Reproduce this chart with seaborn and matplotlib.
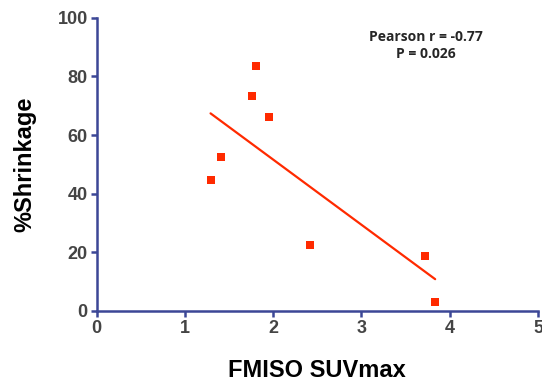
import matplotlib
matplotlib.use("Agg")
import matplotlib.pyplot as plt
import seaborn as sns
import pandas as pd

suvmax = [1.29, 1.41, 1.76, 1.81, 1.955, 2.42, 3.72, 3.835]
shrinkage = [44.6, 52.4, 73.3, 83.5, 66.1, 22.4, 18.7, 3.0]
x_ticks = [0, 1, 2, 3, 4, 5]
y_ticks = [0, 20, 40, 60, 80, 100]
annotation = "Pearson r = -0.77\nP = 0.026"

df = pd.DataFrame({"FMISO SUVmax": suvmax, "%Shrinkage": shrinkage})

sns.set_style("ticks")
plt.rcParams["font.family"] = ["Liberation Sans", "DejaVu Sans"]

red = "#FF2A00"
axis_col = "#3C4796"

fig = plt.figure(figsize=(5.42, 3.82), dpi=100)
ax = fig.add_axes([0.1784, 0.1859, 0.8142, 0.7678])

sns.regplot(data=df, x="FMISO SUVmax", y="%Shrinkage", ax=ax, ci=None, truncate=True,
            marker="s", color=red,
            scatter_kws={"s": 30, "linewidths": 0, "alpha": 1, "zorder": 3},
            line_kws={"lw": 1.6, "color": red})

ax.set_xlim(0, 5)
ax.set_ylim(0, 100)
ax.set_xticks(x_ticks)
ax.set_yticks(y_ticks)
for s in ["top", "right"]:
    ax.spines[s].set_visible(False)
for s in ["left", "bottom"]:
    ax.spines[s].set_color(axis_col)
    ax.spines[s].set_linewidth(1.8)
ax.tick_params(axis="both", colors=axis_col, width=1.8, length=4.5, labelcolor="#444444",
               labelsize=13, pad=2)
for lbl in ax.get_xticklabels() + ax.get_yticklabels():
    lbl.set_fontweight("bold")

ax.set_xlabel("FMISO SUVmax", fontsize=17, fontweight="bold", color="black", labelpad=16)
ax.set_ylabel("%Shrinkage", fontsize=17, fontweight="bold", color="black", labelpad=15)

ax.text(3.73, 90.5, annotation, ha="center", va="center", fontsize=10,
        fontweight="bold", family=["Open Sans", "DejaVu Sans"], linespacing=1.25)

fig.savefig("out.png", dpi=100)
